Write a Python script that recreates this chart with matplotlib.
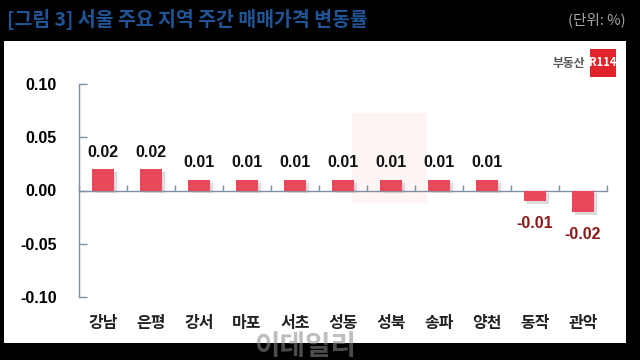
import matplotlib
matplotlib.use("Agg")
import matplotlib.pyplot as plt
from matplotlib.patches import Rectangle
import matplotlib.patheffects as pe
import matplotlib.transforms as mtransforms

plt.rcParams['font.family'] = ['Noto Sans CJK KR', 'DejaVu Sans']

categories = ['강남', '은평', '강서', '마포', '서초', '성동', '성북', '송파', '양천', '동작', '관악']
values = [0.02, 0.02, 0.01, 0.01, 0.01, 0.01, 0.01, 0.01, 0.01, -0.01, -0.02]
value_labels = ['0.02', '0.02', '0.01', '0.01', '0.01', '0.01', '0.01', '0.01', '0.01', '-0.01', '-0.02']
yticks = [-0.10, -0.05, 0.00, 0.05, 0.10]
ytick_labels = ['-0.10', '-0.05', '0.00', '0.05', '0.10']

W, H = 640, 360
fig = plt.figure(figsize=(6.4, 3.6), dpi=100, facecolor='black')

# white panel
fig.patches.append(Rectangle((4 / W, 1 - 343 / H), 622 / W, 302 / H,
                             transform=fig.transFigure, facecolor='white',
                             edgecolor='none', zorder=-3))

# title and unit
fig.text(7 / W, 1 - 19 / H, '[그림 3] 서울 주요 지역 주간 매매가격 변동률',
         color='#1F5496', fontsize=14, fontweight='bold', va='center', ha='left')
fig.text(626 / W, 1 - 20 / H, '(단위: %)', color='#A8A8A8', fontsize=10.5,
         va='center', ha='right')

# logo
fig.text(585 / W, 1 - 63 / H, '부동산', color='#555555', fontsize=8.5,
         fontweight='bold', va='center', ha='right')
fig.patches.append(Rectangle((590 / W, 1 - 77 / H), 26 / W, 28 / H,
                             transform=fig.transFigure, facecolor='#E3232C',
                             edgecolor='none', zorder=1))
fig.text(603 / W, 1 - 63 / H, 'R114', color='white', fontsize=8,
         fontweight='bold', va='center', ha='center', zorder=2)

# faint watermark in panel
fig.patches.append(Rectangle((352 / W, 1 - 203 / H), 75 / W, 90 / H,
                             transform=fig.transFigure, facecolor='#FDF4F4',
                             edgecolor='none', zorder=-2))

ax = fig.add_axes([79 / W, 1 - 297 / H, (607 - 79) / W, (297 - 84) / H])
ax.set_zorder(1)
ax.set_facecolor('none')
x = list(range(len(categories)))
bars = ax.bar(x, values, width=0.46, color='#E8485A', zorder=3)
for b in bars:
    b.set_path_effects([pe.SimplePatchShadow(offset=(2, -2), shadow_rgbFace='#999999', alpha=0.35),
                        pe.Normal()])

ax.set_xlim(-0.5, len(categories) - 0.5)
ax.set_ylim(-0.10, 0.10)

axis_col = '#7F8FA6'
ax.spines['top'].set_visible(False)
ax.spines['right'].set_visible(False)
ax.spines['bottom'].set_position(('data', 0))
ax.spines['bottom'].set_color(axis_col)
ax.spines['left'].set_color(axis_col)
ax.spines['bottom'].set_linewidth(1.0)
ax.spines['left'].set_linewidth(1.0)

ax.set_yticks(yticks)
ax.set_yticklabels(ytick_labels, fontsize=11.5, fontweight='bold',
                   family=['Liberation Sans', 'DejaVu Sans'])
ax.tick_params(axis='y', direction='in', length=6, color=axis_col, pad=16, width=1)

ax.set_xticks([i + 0.5 for i in range(-1, len(categories))])
ax.set_xticklabels([])
ax.tick_params(axis='x', direction='in', length=4, color=axis_col, width=1)

trans = mtransforms.blended_transform_factory(ax.transData, ax.transAxes)
for i, c in enumerate(categories):
    ax.text(i, -0.12, c, transform=trans, ha='center', va='center',
            fontsize=11.5, fontweight='bold', color='#222222')

for i, (v, lab) in enumerate(zip(values, value_labels)):
    if v >= 0:
        ax.text(i, v + 0.016, lab, ha='center', va='center', fontsize=11.5,
                fontweight='bold', color='#111111',
                family=['Liberation Sans', 'DejaVu Sans'])
    else:
        ax.text(i, v - 0.021, lab, ha='center', va='center', fontsize=11.5,
                fontweight='bold', color='#8B1A1A',
                family=['Liberation Sans', 'DejaVu Sans'])

# bottom watermark
fig.text(305 / W, 1 - 347 / H, '이데일리', color='#8A8A8A', alpha=0.55,
         fontsize=20, fontweight='bold', ha='center', va='center')

fig.savefig('out.png', dpi=100, facecolor='black')
